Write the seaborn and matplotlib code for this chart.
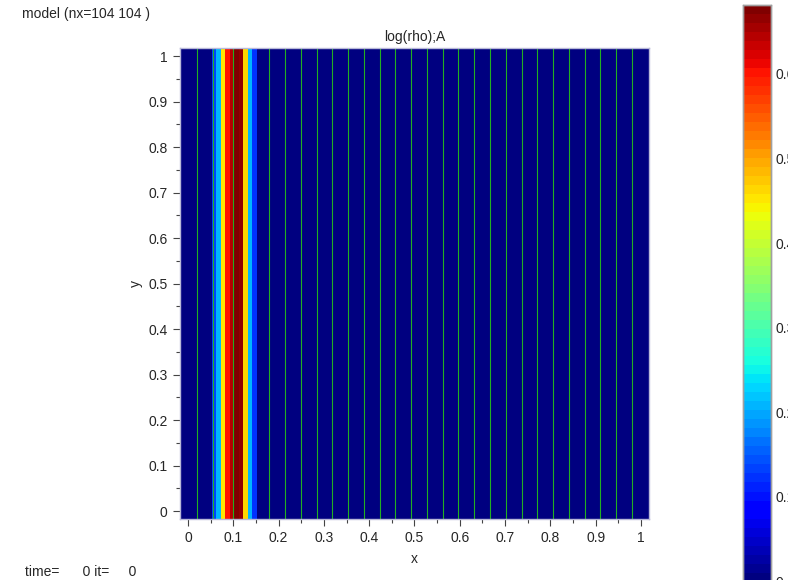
import numpy as np
import matplotlib
matplotlib.use("Agg")
import matplotlib.pyplot as plt
import seaborn as sns
from matplotlib.colors import ListedColormap

# ---------------- data ----------------
nx = 104
ny = 104
x_lo, x_hi = -0.0175, 1.0175
y_lo, y_hi = -0.0175, 1.0175

# log(rho) in each x cell (field is uniform along y)
log_rho = ([0.0] * 7
           + [0.13, 0.21, 0.45, 0.60, 0.64, 0.68, 0.67, 0.46, 0.21, 0.12]
           + [0.0] * 87)

# visible cell-edge grid lines (x, data units)
grid_lines_x = [0.0207, 0.0554, 0.0993, 0.1789, 0.2141, 0.2492, 0.2844, 0.3187,
                0.3538, 0.3884, 0.4237, 0.4580, 0.4927, 0.5275, 0.5626, 0.5965,
                0.6308, 0.6659, 0.7009, 0.7363, 0.7710, 0.8055, 0.8407, 0.8758,
                0.9103, 0.9446, 0.9802]

x_ticks = [0, 0.1, 0.2, 0.3, 0.4, 0.5, 0.6, 0.7, 0.8, 0.9, 1.0]
x_tick_labels = ["0", "0.1", "0.2", "0.3", "0.4", "0.5", "0.6", "0.7", "0.8", "0.9", "1"]
y_ticks = x_ticks
y_tick_labels = x_tick_labels
cbar_ticks = [0, 0.1, 0.2, 0.3, 0.4, 0.5, 0.6]
cbar_tick_labels = ["0", "0.1", "0.2", "0.3", "0.4", "0.5", "0.6"]
vmin, vmax = 0.0, 0.6815

# ---------------- style ----------------
sns.set_style("white")
plt.rcParams['font.family'] = ['Liberation Sans', 'DejaVu Sans']
FS = 10
plt.rcParams['font.size'] = FS

fig = plt.figure(figsize=(7.88, 5.80), dpi=100)
W, H = 788.0, 580.0
ax = fig.add_axes([180 / W, (H - 519) / H, 469 / W, 470.7 / H])
cax = fig.add_axes([743.3 / W, (H - 581.6) / H, 27.7 / W, 576.6 / H])

field = np.tile(np.asarray(log_rho, dtype=float), (ny, 1))
cmap = ListedColormap(plt.get_cmap('jet')(np.linspace(0, 1, 64)))

sns.heatmap(field, ax=ax, cmap=cmap, vmin=vmin, vmax=vmax, cbar=True, cbar_ax=cax,
            xticklabels=False, yticklabels=False, rasterized=True)
ax.invert_yaxis()  # row 0 at the bottom

dx = (x_hi - x_lo) / nx
dy = (y_hi - y_lo) / ny

def xpos(v):
    return (np.asarray(v) - x_lo) / dx

def ypos(v):
    return (np.asarray(v) - y_lo) / dy

for gx in grid_lines_x:
    ax.axvline(xpos(gx), color='#22b022', lw=0.8)

ax.set_xticks(xpos(x_ticks))
ax.set_xticklabels(x_tick_labels)
ax.set_yticks(ypos(y_ticks))
ax.set_yticklabels(y_tick_labels, rotation=0)
minor = [0.05, 0.15, 0.25, 0.35, 0.45, 0.55, 0.65, 0.75, 0.85, 0.95]
ax.set_xticks(xpos(minor), minor=True)
ax.set_yticks(ypos(minor), minor=True)
ax.tick_params(which='major', direction='out', length=5, width=0.8, color='#444444',
               bottom=True, left=True, pad=4, labelsize=FS)
ax.tick_params(which='minor', direction='out', length=3, width=0.8, color='#444444',
               bottom=True, left=True)
for s in ax.spines.values():
    s.set_visible(True)
    s.set_color('#b8b8d8')
    s.set_linewidth(1.0)

ax.set_xlabel('x', fontsize=FS, labelpad=5)
ax.set_ylabel('y', fontsize=FS, labelpad=4)
ax.set_title('log(rho);A', fontsize=FS, pad=5)

# colorbar
cax.set_yticks(cbar_ticks)
cax.set_yticklabels(cbar_tick_labels)
cax.tick_params(axis='y', direction='in', length=4, width=0.8, color='#333333',
                left=True, right=True, labelleft=False, labelright=True, pad=3,
                labelsize=FS)
for s in cax.spines.values():
    s.set_visible(True)
    s.set_color('#a0a0a0')
    s.set_linewidth(1.0)

fig.text(22 / W, 1 - 14 / H, 'model (nx=104 104 )', fontsize=FS, va='center', ha='left')
fig.text(25 / W, 1 - 572 / H, 'time=      0 it=     0', fontsize=FS, va='center', ha='left')

fig.savefig('out.png', dpi=100)
